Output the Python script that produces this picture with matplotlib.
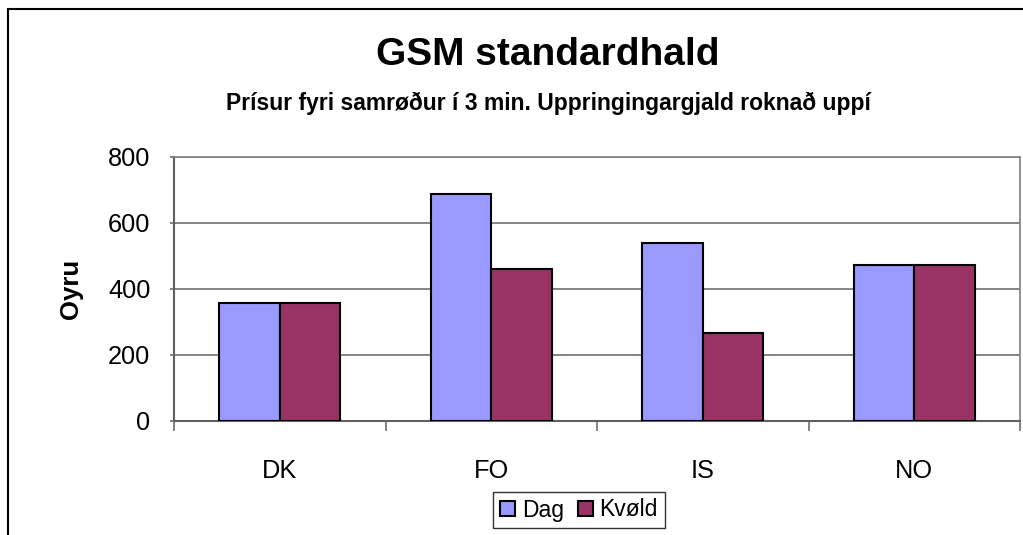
import matplotlib.pyplot as plt
import numpy as np
from matplotlib.patches import Rectangle

plt.rcParams['font.family'] = ['Liberation Sans', 'DejaVu Sans']

categories = ['DK', 'FO', 'IS', 'NO']
dag = [358, 686, 539, 471]
kvold = [358, 461, 267, 471]
y_ticks = [0, 200, 400, 600, 800]

fig = plt.figure(figsize=(10.23, 5.35), dpi=100)
ax = fig.add_axes([174 / 1023, 1 - 421 / 535, (1020 - 174) / 1023, (421 - 156.7) / 535])

x = np.arange(len(categories))
w = 1 / 3.5
ax.bar(x - w / 2, dag, w, color='#9999FF', edgecolor='black', linewidth=1.5, label='Dag', zorder=3)
ax.bar(x + w / 2, kvold, w, color='#993366', edgecolor='black', linewidth=1.5, label='Kvøld', zorder=3)

ax.set_xlim(-0.5, len(categories) - 0.5)
ax.set_ylim(0, 800)
ax.set_yticks(y_ticks)
ax.set_yticklabels([str(t) for t in y_ticks], fontsize=18.3)
ax.set_xticks(x)
ax.set_xticklabels(categories, fontsize=18.3)
ax.set_xticks(np.arange(len(categories) + 1) - 0.5, minor=True)
ax.tick_params(axis='x', which='major', length=0, pad=27)
ax.tick_params(axis='x', which='minor', length=7, color='#707070', width=1.2)
ax.tick_params(axis='y', length=3, color='#707070', width=1.2, pad=14)
ax.grid(axis='y', color='#707070', linewidth=1.2, zorder=0)

for s in ['top', 'right']:
    ax.spines[s].set_color('#808080')
    ax.spines[s].set_linewidth(1.2)
for s in ['left', 'bottom']:
    ax.spines[s].set_color('#606060')
    ax.spines[s].set_linewidth(1.5)

ax.set_ylabel('Oyru', fontsize=18.5, fontweight='bold', labelpad=18)

fig.text(548 / 1023, 1 - 55 / 535, 'GSM standardhald', fontsize=28, fontweight='bold',
         ha='center', va='center')
fig.text(548 / 1023, 1 - 103 / 535, 'Prísur fyri samrøður í 3 min. Uppringingargjald roknað uppí',
         fontsize=16.5, fontweight='bold', ha='center', va='center')

leg = fig.legend(loc='center', bbox_to_anchor=(579 / 1023, 1 - 510 / 535), ncol=2,
                 fontsize=16.5, frameon=True, fancybox=False, edgecolor='black',
                 handlelength=0.65, handleheight=0.65, handletextpad=0.3, columnspacing=0.6,
                 borderpad=0.3)
leg.get_frame().set_linewidth(1.0)

fig.patches.append(Rectangle((8 / 1023, -0.05), 1.1, 1 - 9 / 535 + 0.05,
                             transform=fig.transFigure, fill=False,
                             edgecolor='black', linewidth=1.5))

fig.savefig('out.png', dpi=100)
